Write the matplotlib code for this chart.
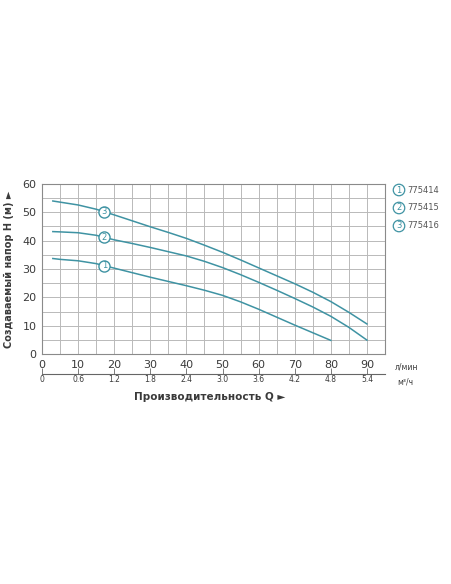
import numpy as np
import matplotlib
matplotlib.use("Agg")
import matplotlib.pyplot as plt

# расход, л/мин
q_1 = [3, 5, 10, 15, 20, 25, 30, 35, 40, 45, 50, 55, 60, 65, 70, 75, 80]
h_1 = [33.7, 33.4, 32.9, 31.9, 30.3, 28.7, 27.1, 25.6, 24.1, 22.5, 20.7,
       18.4, 15.8, 13.0, 10.2, 7.5, 4.8]

q_2 = [3, 5, 10, 15, 20, 25, 30, 35, 40, 45, 50, 55, 60, 65, 70, 75, 80, 85, 90]
h_2 = [43.2, 43.1, 42.8, 41.9, 40.3, 39.0, 37.6, 36.1, 34.6, 32.7, 30.5,
       28.0, 25.3, 22.5, 19.6, 16.6, 13.3, 9.4, 4.9]

q_3 = [3, 5, 10, 15, 20, 25, 30, 35, 40, 45, 50, 55, 60, 65, 70, 75, 80, 85, 90]
h_3 = [54.0, 53.6, 52.6, 51.1, 49.1, 47.0, 44.9, 42.9, 40.8, 38.4, 35.9,
       33.2, 30.4, 27.6, 24.8, 21.8, 18.5, 14.7, 10.6]

models = ["775414", "775415", "775416"]
marker_q = 17.3

lmin_ticks = [0, 10, 20, 30, 40, 50, 60, 70, 80, 90]
m3h_labels = ["0", "0.6", "1.2", "1.8", "2.4", "3.0", "3.6", "4.2", "4.8", "5.4"]

teal = "#3f93a3"
grid_c = "#b9b9b9"
txt = "#3a3a3a"

fig = plt.figure(figsize=(4.52, 5.84), dpi=100)
ax = fig.add_axes([42 / 452, 1 - 354 / 584, 343 / 452, 170 / 584])

curves = [(q_1, h_1), (q_2, h_2), (q_3, h_3)]
for i, (q, h) in enumerate(curves):
    ax.plot(q, h, color=teal, lw=1.1, zorder=3)
    hm = np.interp(marker_q, q, h)
    ax.plot(marker_q, hm, "o", ms=8, mfc="white", mec=teal, mew=1.0, zorder=4)
    ax.text(marker_q, hm, str(i + 1), ha="center", va="center", fontsize=6,
            color=teal, zorder=5)

ax.set_xlim(0, 95)
ax.set_ylim(0, 60)
ax.set_xticks(np.arange(0, 96, 5), minor=True)
ax.set_yticks(np.arange(0, 61, 5), minor=True)
ax.set_xticks(lmin_ticks)
ax.set_yticks([0, 10, 20, 30, 40, 50, 60])
ax.grid(True, which="both", color=grid_c, lw=0.7)
ax.tick_params(which="both", length=0, labelsize=8, labelcolor=txt, pad=4)
for s in ax.spines.values():
    s.set_color("#8a8a8a")
    s.set_linewidth(0.8)

ax.set_ylabel("Создаваемый напор H (м) ►", fontsize=7, fontweight="bold",
              color=txt, labelpad=6)

# вторая шкала, м3/ч
ax2 = fig.add_axes([42 / 452, 1 - 374 / 584, 343 / 452, 0.0001])
ax2.set_xlim(0, 95)
ax2.set_ylim(0, 1)
ax2.set_yticks([])
for k in ["top", "left", "right"]:
    ax2.spines[k].set_visible(False)
ax2.spines["bottom"].set_color("#666666")
ax2.spines["bottom"].set_linewidth(0.8)
ax2.patch.set_visible(False)
ax2.set_xticks(lmin_ticks)
ax2.set_xticklabels(m3h_labels)
ax2.tick_params(axis="x", direction="in", length=4, width=0.6, color="#666666",
                labelsize=5.5, labelcolor=txt, pad=1)

fig.text(407 / 452, 1 - 367 / 584, "л/мин", fontsize=5.5, color=txt,
         ha="center", va="center")
fig.text(405 / 452, 1 - 382 / 584, "м³/ч", fontsize=5.5, color=txt,
         ha="center", va="center")
fig.text(210 / 452, 1 - 397 / 584, "Производительность Q ►", fontsize=7.5,
         fontweight="bold", color=txt, ha="center", va="center")

# легенда
for i, name in enumerate(models):
    y = 1 - (190 + 18 * i) / 584
    fig.text(399 / 452, y, str(i + 1), fontsize=6, color=teal, ha="center",
             va="center",
             bbox=dict(boxstyle="circle,pad=0.15", fc="white", ec=teal, lw=0.9))
    fig.text(407 / 452, y, name, fontsize=6, color="#555555", ha="left",
             va="center")

fig.savefig("out.png", dpi=100)
